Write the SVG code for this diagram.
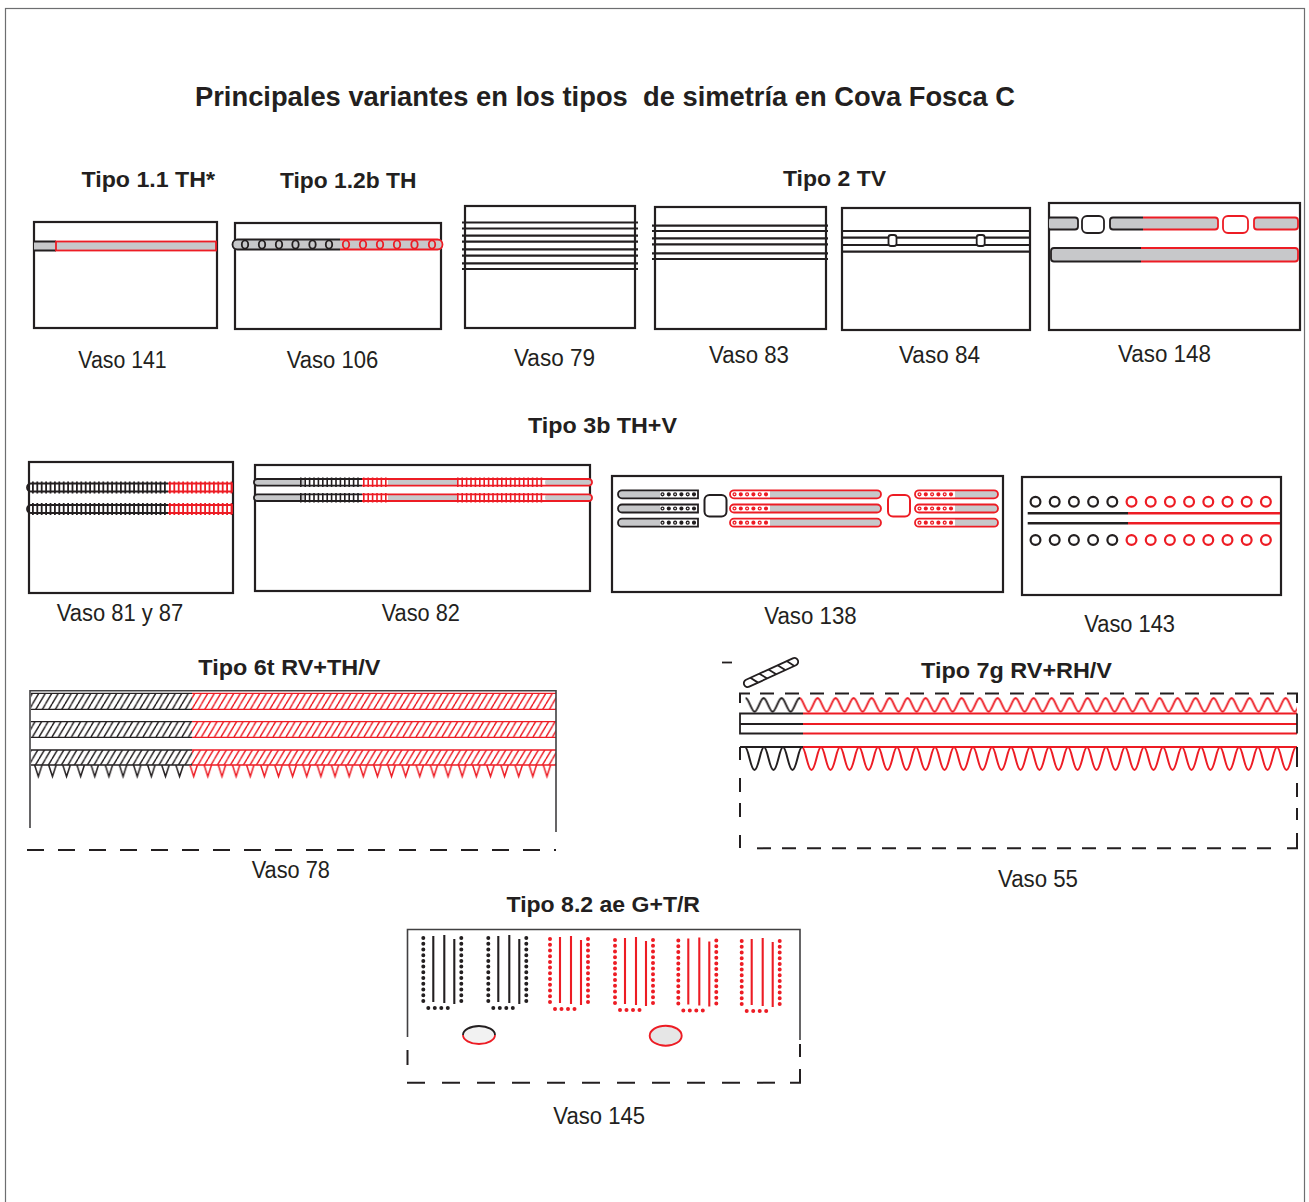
<svg xmlns="http://www.w3.org/2000/svg" width="1309" height="1202" viewBox="0 0 1309 1202">
<defs>
<style>
.t{font-family:"Liberation Sans",Arial,sans-serif;fill:#231f20}
.h{font-size:22px;font-weight:bold}
.v{font-size:23px}
.box{fill:none;stroke:#231f20;stroke-width:2.2}
.thin{fill:none;stroke:#414042;stroke-width:1.6}
.k{fill:none;stroke:#231f20;stroke-width:1.8}
.r{fill:none;stroke:#ed1c24;stroke-width:1.8}
.g{fill:#c7c8ca}
.ln{fill:none;stroke:#231f20;stroke-width:2.2}
.dash{fill:none;stroke:#231f20;stroke-width:2}
.tick{fill:none;stroke-width:12;stroke-dasharray:1.8 2.6}
.tick2{fill:none;stroke-width:9.5;stroke-dasharray:1.6 2.8}
.dot{fill:none;stroke-width:4.2;stroke-linecap:round;stroke-dasharray:0 6.3}
.hole{fill:none;stroke:#fff;stroke-width:1.6;stroke-linecap:round;stroke-dasharray:0 12.6}
.ringK{fill:none;stroke:#231f20;stroke-width:2.2}
.ringR{fill:none;stroke:#ed1c24;stroke-width:2.2}
</style>
<!-- diagonal hatching for the cord bands -->
<pattern id="hatchK" patternUnits="userSpaceOnUse" width="6.5" height="11">
<path d="M-6.5,11 L0,0 M0,11 L6.5,0 M6.5,11 L13,0" stroke="#231f20" stroke-width="1.4" fill="none"/>
</pattern>
<pattern id="hatchR" patternUnits="userSpaceOnUse" width="6.5" height="11">
<path d="M-6.5,11 L0,0 M0,11 L6.5,0 M6.5,11 L13,0" stroke="#ed1c24" stroke-width="1.4" fill="none"/>
</pattern>
<!-- hanging triangles -->
<pattern id="teethK" patternUnits="userSpaceOnUse" x="31.2" y="765" width="14.13" height="14">
<path d="M3.4,0 L7.1,11.5 L10.8,0" stroke="#231f20" stroke-width="1.5" fill="none"/>
</pattern>
<pattern id="teethR" patternUnits="userSpaceOnUse" x="31.2" y="765" width="14.13" height="14">
<path d="M3.4,0 L7.1,11.5 L10.8,0" stroke="#ed1c24" stroke-width="1.5" fill="none"/>
</pattern>
<!-- zigzag waves -->
<pattern id="waveUK" patternUnits="userSpaceOnUse" x="745.6" y="695" width="18" height="19">
<path d="M0,3 C3,3 6,16.7 9,16.7 C12,16.7 15,3 18,3" stroke="#231f20" stroke-width="1.9" fill="none"/>
</pattern>
<pattern id="waveUR" patternUnits="userSpaceOnUse" x="745.6" y="695" width="18" height="19">
<path d="M0,3 C3,3 6,16.7 9,16.7 C12,16.7 15,3 18,3" stroke="#ed1c24" stroke-width="1.9" fill="none"/>
</pattern>
<pattern id="waveLK" patternUnits="userSpaceOnUse" x="745" y="744" width="19" height="29">
<path d="M0,3 C3.5,3 5.5,26 9.5,26 C13.5,26 15.5,3 19,3" stroke="#231f20" stroke-width="2" fill="none"/>
</pattern>
<pattern id="waveLR" patternUnits="userSpaceOnUse" x="745" y="744" width="19" height="29">
<path d="M0,3 C3.5,3 5.5,26 9.5,26 C13.5,26 15.5,3 19,3" stroke="#ed1c24" stroke-width="2" fill="none"/>
</pattern>
<!-- dotted U motif with three inner strokes -->
<g id="motif" fill="none" stroke="currentColor">
<path d="M0,0 V63 M38,0 V63" stroke-width="4" stroke-linecap="round" stroke-dasharray="0 5.72"/>
<path d="M5,70 H31" stroke-width="4" stroke-linecap="round" stroke-dasharray="0 6.5"/>
<path d="M10,-2 V64 M21,-3 V65 M31,1 V66" stroke-width="2.1"/>
</g>
<!-- bands of vessel 138 -->
<g id="b138K">
<path class="g" d="M660,-4 H622 A4,4 0 0 0 622,4 H660 Z"/>
<path class="k" d="M698,-4 H622 A4,4 0 0 0 622,4 H698 Z"/>
<path class="dot" stroke="#231f20" d="M662.5,0 H695"/>
<path class="hole" d="M662.5,0 H695"/>
</g>
<g id="b138R1">
<path class="g" d="M770,-4 H877 A4,4 0 0 1 877,4 H770 Z"/>
<rect class="r" x="730" y="-4" width="151" height="8" rx="4"/>
<path class="dot" stroke="#ed1c24" d="M734.5,0 H767"/>
<path class="hole" d="M734.5,0 H767"/>
</g>
<g id="b138R2">
<path class="g" d="M955,-4 H994 A4,4 0 0 1 994,4 H955 Z"/>
<rect class="r" x="915" y="-4" width="83" height="8" rx="4"/>
<path class="dot" stroke="#ed1c24" d="M919.5,0 H952"/>
<path class="hole" d="M919.5,0 H952"/>
</g>
</defs>

<rect x="0" y="0" width="1309" height="1202" fill="#fff"/>
<rect x="5.5" y="8.5" width="1299" height="1210" fill="none" stroke="#6d6e70" stroke-width="1.2"/>

<g id="title">
<text class="t" x="195" y="106" font-size="27.5" font-weight="bold" textLength="820" lengthAdjust="spacingAndGlyphs">Principales variantes en los tipos&#160; de simetría en Cova Fosca C</text>
</g>

<g id="type-labels">
<text class="t h" x="81.5" y="186.5" textLength="133.5" lengthAdjust="spacingAndGlyphs">Tipo 1.1 TH*</text>
<text class="t h" x="280" y="188.3" textLength="136.5" lengthAdjust="spacingAndGlyphs">Tipo 1.2b TH</text>
<text class="t h" x="783" y="186" textLength="103" lengthAdjust="spacingAndGlyphs">Tipo 2 TV</text>
<text class="t h" x="528" y="432.5" textLength="149" lengthAdjust="spacingAndGlyphs">Tipo 3b TH+V</text>
<text class="t h" x="198.3" y="675" textLength="182" lengthAdjust="spacingAndGlyphs">Tipo 6t RV+TH/V</text>
<text class="t h" x="921" y="677.5" textLength="191" lengthAdjust="spacingAndGlyphs">Tipo 7g RV+RH/V</text>
<text class="t h" x="506.5" y="911.7" textLength="193.5" lengthAdjust="spacingAndGlyphs">Tipo 8.2 ae G+T/R</text>
</g>

<g id="vessel-labels">
<text class="t v" x="78.3" y="368.3" textLength="88.4" lengthAdjust="spacingAndGlyphs">Vaso 141</text>
<text class="t v" x="286.7" y="368.3" textLength="91.6" lengthAdjust="spacingAndGlyphs">Vaso 106</text>
<text class="t v" x="514" y="366" textLength="81" lengthAdjust="spacingAndGlyphs">Vaso 79</text>
<text class="t v" x="709" y="363" textLength="80" lengthAdjust="spacingAndGlyphs">Vaso 83</text>
<text class="t v" x="899" y="363" textLength="81" lengthAdjust="spacingAndGlyphs">Vaso 84</text>
<text class="t v" x="1118" y="362" textLength="93" lengthAdjust="spacingAndGlyphs">Vaso 148</text>
<text class="t v" x="56.7" y="620.5" textLength="126.6" lengthAdjust="spacingAndGlyphs">Vaso 81 y 87</text>
<text class="t v" x="381.7" y="621" textLength="78.3" lengthAdjust="spacingAndGlyphs">Vaso 82</text>
<text class="t v" x="764.3" y="624" textLength="92.4" lengthAdjust="spacingAndGlyphs">Vaso 138</text>
<text class="t v" x="1084.3" y="631.7" textLength="90.7" lengthAdjust="spacingAndGlyphs">Vaso 143</text>
<text class="t v" x="251.7" y="878.3" textLength="78.3" lengthAdjust="spacingAndGlyphs">Vaso 78</text>
<text class="t v" x="998" y="887" textLength="80" lengthAdjust="spacingAndGlyphs">Vaso 55</text>
<text class="t v" x="553.3" y="1123.5" textLength="91.7" lengthAdjust="spacingAndGlyphs">Vaso 145</text>
</g>

<!-- Vaso 141: one filled band -->
<g id="vaso-141">
<rect class="box" x="34" y="222" width="183" height="106"/>
<rect class="g" x="34" y="241" width="182" height="10"/>
<path class="k" d="M34,241.5 H56 M34,250.5 H56"/>
<rect class="r" x="56" y="241.5" width="160" height="9"/>
</g>

<!-- Vaso 106: band of small rings -->
<g id="vaso-106">
<rect class="box" x="235" y="223" width="206" height="106"/>
<rect class="g" x="232" y="239" width="211" height="11" rx="5.5"/>
<path class="k" d="M340,239.5 H237.5 A5,5 0 0 0 237.5,249.5 H340"/>
<path class="r" d="M340,239.5 H437.5 A5,5 0 0 1 437.5,249.5 H340"/>
<g class="k" stroke-width="2">
<ellipse cx="245" cy="244.5" rx="3.2" ry="4.2"/>
<ellipse cx="262" cy="244.5" rx="3.2" ry="4.2"/>
<ellipse cx="279" cy="244.5" rx="3.2" ry="4.2"/>
<ellipse cx="295.5" cy="244.5" rx="3.2" ry="4.2"/>
<ellipse cx="312.5" cy="244.5" rx="3.2" ry="4.2"/>
<ellipse cx="329" cy="244.5" rx="3.2" ry="4.2"/>
</g>
<g class="r" stroke-width="2">
<ellipse cx="346" cy="244.5" rx="3.2" ry="4.2"/>
<ellipse cx="363" cy="244.5" rx="3.2" ry="4.2"/>
<ellipse cx="380" cy="244.5" rx="3.2" ry="4.2"/>
<ellipse cx="397" cy="244.5" rx="3.2" ry="4.2"/>
<ellipse cx="414.5" cy="244.5" rx="3.2" ry="4.2"/>
<ellipse cx="432" cy="244.5" rx="3.2" ry="4.2"/>
</g>
</g>

<!-- Vaso 79: four double lines -->
<g id="vaso-79">
<rect class="box" x="465" y="206" width="170" height="122"/>
<path class="ln" d="M462,222.5 H638 M462,228.5 H638 M462,235.7 H638 M462,241.7 H638 M462,249.3 H638 M462,255.7 H638 M462,263.3 H638 M462,269 H638"/>
</g>

<!-- Vaso 83: three double lines -->
<g id="vaso-83">
<rect class="box" x="655" y="207" width="171" height="122"/>
<path class="ln" d="M652,225.7 H828 M652,231 H828 M652,238.3 H828 M652,244.3 H828 M652,253.3 H828 M652,259 H828"/>
</g>

<!-- Vaso 84: lines with two small bosses -->
<g id="vaso-84">
<rect class="box" x="842" y="208" width="188" height="122"/>
<path class="ln" d="M842,231 H1030 M842,237.7 H1030 M842,245 H1030 M842,251.7 H1030"/>
<rect x="888.5" y="235" width="8" height="11" rx="2.5" fill="#fff" stroke="#231f20" stroke-width="1.8"/>
<rect x="976.7" y="235" width="8" height="11" rx="2.5" fill="#fff" stroke="#231f20" stroke-width="1.8"/>
</g>

<!-- Vaso 148: segmented bands with cartouches -->
<g id="vaso-148">
<rect class="box" x="1049" y="203" width="251" height="127"/>
<rect class="g" x="1049" y="217.5" width="29" height="12" rx="3"/>
<path class="k" d="M1049,217.5 H1075 A3,3 0 0 1 1078,220.5 V226.5 A3,3 0 0 1 1075,229.5 H1049"/>
<rect x="1082" y="216" width="22" height="17" rx="5" fill="#fff" stroke="#231f20" stroke-width="1.8"/>
<rect class="g" x="1110" y="217.5" width="108" height="12" rx="3"/>
<path class="k" d="M1143,217.5 H1113 A3,3 0 0 0 1110,220.5 V226.5 A3,3 0 0 0 1113,229.5 H1143"/>
<path class="r" d="M1143,217.5 H1215 A3,3 0 0 1 1218,220.5 V226.5 A3,3 0 0 1 1215,229.5 H1143"/>
<rect x="1223" y="216" width="25" height="17" rx="5" fill="#fff" stroke="#ed1c24" stroke-width="1.8"/>
<rect class="g" x="1254" y="217.5" width="44" height="12" rx="3"/>
<rect class="r" x="1254" y="217.5" width="44" height="12" rx="3"/>
<rect class="g" x="1051" y="248" width="247" height="13.5" rx="3"/>
<path class="k" d="M1141,248 H1054 A3,3 0 0 0 1051,251 V258.5 A3,3 0 0 0 1054,261.5 H1141"/>
<path class="r" d="M1141,248 H1295 A3,3 0 0 1 1298,251 V258.5 A3,3 0 0 1 1295,261.5 H1141"/>
</g>

<!-- Vaso 81 y 87: two rope bands -->
<g id="vaso-81-87">
<rect class="box" x="29" y="462" width="204" height="131"/>
<path class="k" d="M168,483.5 H31 A4,4 0 0 0 31,491.5 H168"/>
<path class="r" d="M168,483.5 H232 V491.5 H168"/>
<path class="tick" stroke="#231f20" d="M32,487.5 H168"/>
<path class="tick" stroke="#ed1c24" d="M169,487.5 H232"/>
<path class="k" d="M168,505 H31 A4,4 0 0 0 31,513 H168"/>
<path class="r" d="M168,505 H232 V513 H168"/>
<path class="tick" stroke="#231f20" d="M32,509 H168"/>
<path class="tick" stroke="#ed1c24" d="M169,509 H232"/>
</g>

<!-- Vaso 82: two bands with ticked stretches -->
<g id="vaso-82">
<rect class="box" x="255" y="465" width="335" height="126"/>
<g>
<rect class="g" x="254" y="479" width="50" height="6.7" rx="3.3"/>
<rect class="g" x="388" y="479" width="69" height="6.7"/>
<rect class="g" x="545" y="479" width="47" height="6.7" rx="3.3"/>
<path class="k" d="M362,479 H257.3 A3.35,3.35 0 0 0 257.3,485.7 H362"/>
<path class="r" d="M362,479 H588.7 A3.35,3.35 0 0 1 588.7,485.7 H362"/>
<path class="tick2" stroke="#231f20" d="M300,482.3 H361"/>
<path class="tick2" stroke="#ed1c24" d="M363,482.3 H388 M457,482.3 H545"/>
</g>
<g>
<rect class="g" x="254" y="494.3" width="50" height="6.7" rx="3.3"/>
<rect class="g" x="388" y="494.3" width="69" height="6.7"/>
<rect class="g" x="545" y="494.3" width="47" height="6.7" rx="3.3"/>
<path class="k" d="M362,494.3 H257.3 A3.35,3.35 0 0 0 257.3,501 H362"/>
<path class="r" d="M362,494.3 H588.7 A3.35,3.35 0 0 1 588.7,501 H362"/>
<path class="tick2" stroke="#231f20" d="M300,497.7 H361"/>
<path class="tick2" stroke="#ed1c24" d="M363,497.7 H388 M457,497.7 H545"/>
</g>
</g>

<!-- Vaso 138: three band groups separated by cartouches -->
<g id="vaso-138">
<rect class="box" x="612" y="476" width="391" height="116"/>
<use href="#b138K" transform="translate(0,494.3)"/>
<use href="#b138K" transform="translate(0,508.5)"/>
<use href="#b138K" transform="translate(0,522.7)"/>
<rect x="704.5" y="495" width="22" height="21.5" rx="5" fill="#fff" stroke="#231f20" stroke-width="2"/>
<use href="#b138R1" transform="translate(0,494.3)"/>
<use href="#b138R1" transform="translate(0,508.5)"/>
<use href="#b138R1" transform="translate(0,522.7)"/>
<rect x="888" y="495" width="22" height="21.5" rx="5" fill="#fff" stroke="#ed1c24" stroke-width="2"/>
<use href="#b138R2" transform="translate(0,494.3)"/>
<use href="#b138R2" transform="translate(0,508.5)"/>
<use href="#b138R2" transform="translate(0,522.7)"/>
</g>

<!-- Vaso 143: two rows of rings around a double line -->
<g id="vaso-143">
<rect class="box" x="1022" y="477" width="259" height="118"/>
<path stroke="#231f20" stroke-width="2.4" fill="none" d="M1027.7,513.3 H1128 M1027.7,523.3 H1128"/>
<path stroke="#ed1c24" stroke-width="2.4" fill="none" d="M1128,513.3 H1280 M1128,523.3 H1280"/>
<g class="ringK">
<circle cx="1035.5" cy="501.7" r="4.9"/><circle cx="1054.7" cy="501.7" r="4.9"/><circle cx="1073.9" cy="501.7" r="4.9"/><circle cx="1093.1" cy="501.7" r="4.9"/><circle cx="1112.3" cy="501.7" r="4.9"/>
<circle cx="1035.5" cy="540" r="4.9"/><circle cx="1054.7" cy="540" r="4.9"/><circle cx="1073.9" cy="540" r="4.9"/><circle cx="1093.1" cy="540" r="4.9"/><circle cx="1112.3" cy="540" r="4.9"/>
</g>
<g class="ringR">
<circle cx="1131.5" cy="501.7" r="4.9"/><circle cx="1150.7" cy="501.7" r="4.9"/><circle cx="1169.9" cy="501.7" r="4.9"/><circle cx="1189.1" cy="501.7" r="4.9"/><circle cx="1208.3" cy="501.7" r="4.9"/><circle cx="1227.5" cy="501.7" r="4.9"/><circle cx="1246.7" cy="501.7" r="4.9"/><circle cx="1265.9" cy="501.7" r="4.9"/>
<circle cx="1131.5" cy="540" r="4.9"/><circle cx="1150.7" cy="540" r="4.9"/><circle cx="1169.9" cy="540" r="4.9"/><circle cx="1189.1" cy="540" r="4.9"/><circle cx="1208.3" cy="540" r="4.9"/><circle cx="1227.5" cy="540" r="4.9"/><circle cx="1246.7" cy="540" r="4.9"/><circle cx="1265.9" cy="540" r="4.9"/>
</g>
</g>

<!-- Vaso 78: three hatched cords and a row of triangles -->
<g id="vaso-78">
<rect x="31" y="693.3" width="161" height="16" fill="url(#hatchK)"/>
<rect x="192" y="693.3" width="364" height="16" fill="url(#hatchR)"/>
<rect x="31" y="721.7" width="161" height="15.6" fill="url(#hatchK)"/>
<rect x="192" y="721.7" width="364" height="15.6" fill="url(#hatchR)"/>
<rect x="31" y="750" width="161" height="15" fill="url(#hatchK)"/>
<rect x="192" y="750" width="364" height="15" fill="url(#hatchR)"/>
<path fill="none" stroke="#231f20" stroke-width="1.3" d="M31,693.3 H192 M31,709.3 H192 M31,721.7 H192 M31,737.3 H192 M31,750 H192 M31,765 H192"/>
<path fill="none" stroke="#ed1c24" stroke-width="1.3" d="M192,693.3 H556 M192,709.3 H556 M192,721.7 H556 M192,737.3 H556 M192,750 H556 M192,765 H556"/>
<rect x="31" y="765" width="157" height="14" fill="url(#teethK)"/>
<rect x="188" y="765" width="366" height="14" fill="url(#teethR)"/>
<path class="thin" d="M30,828 V690.7 H556 V832"/>
<path class="dash" stroke-dasharray="17 14" d="M27,850 H556"/>
</g>

<!-- Vaso 55: two zigzag friezes around a triple line -->
<g id="vaso-55">
<path class="k" d="M722,662.5 H732"/>
<g transform="translate(771,672.5) rotate(-24.7)">
<rect class="k" x="-29.5" y="-3.8" width="59" height="7.6" rx="3.8" stroke-width="1.4"/>
<path class="k" stroke-width="1.2" d="M-21,-3.8 L-16,3.8 M-11,-3.8 L-6,3.8 M-1,-3.8 L4,3.8 M9,-3.8 L14,3.8 M19,-3.8 L24,3.8"/>
</g>
<rect x="745.6" y="695" width="54.4" height="19" fill="url(#waveUK)"/>
<rect x="800" y="695" width="497" height="19" fill="url(#waveUR)"/>
<rect x="745" y="744" width="57" height="29" fill="url(#waveLK)"/>
<rect x="802" y="744" width="494" height="29" fill="url(#waveLR)"/>
<path class="k" d="M803,713.5 H740 V733.5 H803 M740,724 H803 M740,747 H803"/>
<path class="r" d="M803,713.5 H1297 M803,724 H1297 M803,733.5 H1297 M803,747 H1297"/>
<path class="k" d="M1297,713.5 V733.5"/>
<path class="dash" d="M740,703 V693.5 H750 M1287,693.5 H1297 V703"/>
<path class="dash" stroke-dasharray="14 11" d="M760,693.5 H1284"/>
<path class="dash" d="M740,747 V760 M740,778 V792 M740,803 V817 M740,835 V848"/>
<path class="dash" d="M1297,747 V767 M1297,783 V797 M1297,808 V820 M1297,833 V848.3 H1287"/>
<path class="dash" stroke-dasharray="14 11" d="M757,848.3 H1280"/>
</g>

<!-- Vaso 145: dotted U motifs and two ovals -->
<g id="vaso-145">
<path class="thin" stroke-width="2" d="M407.5,1037 V929.5 H800 V1040"/>
<path class="dash" d="M407.5,1050 V1065 M800,1044 V1057 M800,1069 V1082.7 H790"/>
<path class="dash" stroke-dasharray="18 17" d="M407,1082.7 H782"/>
<use href="#motif" color="#231f20" transform="translate(423.3,938)"/>
<use href="#motif" color="#231f20" transform="translate(488.3,938)"/>
<use href="#motif" color="#ed1c24" transform="translate(550,939)"/>
<use href="#motif" color="#ed1c24" transform="translate(615,940)"/>
<use href="#motif" color="#ed1c24" transform="translate(678.3,940.5)"/>
<use href="#motif" color="#ed1c24" transform="translate(741.7,941)"/>
<ellipse cx="479" cy="1035" rx="16" ry="9" fill="#f2f2f2"/>
<path class="k" d="M463,1035 A16,9 0 0 1 495,1035"/>
<path class="r" d="M495,1035 A16,9 0 0 1 463,1035"/>
<ellipse cx="665.7" cy="1035.7" rx="16" ry="10" fill="#e6e6e6" stroke="#ed1c24" stroke-width="1.9"/>
</g>

<g id="connectors"/>
</svg>
